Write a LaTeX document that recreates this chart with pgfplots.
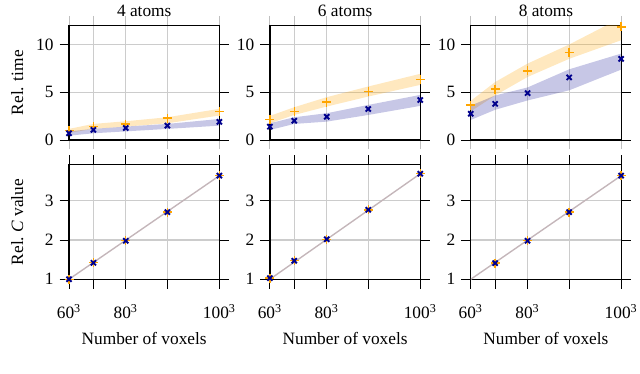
\documentclass[border=0pt]{standalone}
\usepackage{fontspec}
\setmainfont{Liberation Serif}
\usepackage{pgfplots}
\pgfplotsset{compat=1.18}

\definecolor{cOr}{RGB}{255,165,0}
\definecolor{cNv}{RGB}{0,0,140}
\definecolor{cLn}{RGB}{196,182,186}

% x in thousands of voxels: 60^3=216, 70^3=343, 80^3=512, 90^3=729, 100^3=1000
\pgfplotsset{
  every axis title/.style={at={(0.5,1)}, anchor=base, yshift=5.2pt},
  panel/.style={
    anchor=south west,
    width=86.9pt, height=66.2pt, scale only axis,
    xmin=216, xmax=1000,
    xtick={216,343,512,729,1000},
    grid=major, grid style={draw=gray!40, line width=0.6pt},
    tick align=outside, major tick length=5.5pt,
    tick style={black, line width=0.5pt},
    axis line style={line width=0.7pt},
    /pgf/number format/assume math mode=true,
    ylabel style={at={(axis description cs:-0.306,0.5)}, anchor=base},
  },
  toprow/.style={panel, ymin=0, ymax=12, ytick={0,5,10}, xticklabels={},
    x tick style={gray!50}},
  botrow/.style={panel, ymin=1, ymax=3.92, ytick={1,2,3},
    xticklabels={60\textsuperscript{3},,80\textsuperscript{3},,100\textsuperscript{3}},
    xticklabel style={yshift=-5.5pt},
    xlabel={Number of voxels},
    xlabel style={at={(axis description cs:0.5,0)}, anchor=base, yshift=-37.6pt}},
  tplus/.style={only marks, mark=+, mark size=2.6pt, cOr, line width=0.8pt},
  tx/.style={only marks, mark=x, mark size=2.1pt, cNv, line width=1.1pt},
  oband/.style={fill=cOr, fill opacity=0.25, draw=none},
  bband/.style={fill=cNv, fill opacity=0.22, draw=none},
}

\begin{document}
\begin{tikzpicture}
\useasboundingbox (0,0) rectangle (369.9pt,215.6pt);

% ---- top row: relative time ----
\begin{axis}[toprow, at={(39.9pt,134.7pt)}, title={4 atoms}, ylabel={Rel. time}]
  \addplot[oband] coordinates {(216,1.16) (343,1.68) (512,1.96) (729,2.38) (1000,3.26)
    (1000,2.56) (729,1.75) (512,1.40) (343,1.16) (216,0.74)} -- cycle;
  \addplot[bband] coordinates {(216,0.90) (343,1.16) (512,1.40) (729,1.68) (1000,2.20)
    (1000,1.50) (729,1.16) (512,0.90) (343,0.70) (216,0.45)} -- cycle;
  \addplot[tplus] coordinates {(216,0.97) (343,1.39) (512,1.67) (729,2.30) (1000,2.96)};
  \addplot[tx] coordinates {(216,0.70) (343,1.05) (512,1.25) (729,1.50) (1000,1.90)};
\end{axis}

\begin{axis}[toprow, at={(156.0pt,134.7pt)}, title={6 atoms}]
  \addplot[oband] coordinates {(216,2.52) (343,3.43) (512,4.48) (729,5.60) (1000,6.93)
    (1000,5.77) (729,4.55) (512,3.50) (343,2.62) (216,1.75)} -- cycle;
  \addplot[bband] coordinates {(216,1.75) (343,2.38) (512,2.80) (729,3.67) (1000,4.72)
    (1000,3.57) (729,2.62) (512,1.92) (343,1.68) (216,1.05)} -- cycle;
  \addplot[tplus] coordinates {(216,2.16) (343,2.96) (512,3.97) (729,5.05) (1000,6.34)};
  \addplot[tx] coordinates {(216,1.39) (343,2.02) (512,2.43) (729,3.24) (1000,4.18)};
\end{axis}

\begin{axis}[toprow, at={(272.1pt,134.7pt)}, title={8 atoms}]
  \addplot[oband] coordinates {(216,4.10) (343,6.07) (512,8.00) (729,10.00) (1000,12.80)
    (1000,10.45) (729,8.50) (512,6.60) (343,4.66) (216,3.00)} -- cycle;
  \addplot[bband] coordinates {(216,3.60) (343,4.66) (512,5.50) (729,7.40) (1000,9.05)
    (1000,7.37) (729,5.20) (512,4.14) (343,3.16) (216,2.10)} -- cycle;
  \addplot[tplus] coordinates {(216,3.66) (343,5.33) (512,7.24) (729,9.16) (1000,11.84)};
  \addplot[tx] coordinates {(216,2.75) (343,3.79) (512,4.91) (729,6.55) (1000,8.50)};
\end{axis}

% ---- bottom row: relative C value ----
\begin{axis}[botrow, at={(39.9pt,54.2pt)}, ylabel={Rel.\ \textit{C} value}]
  \addplot[cLn, line width=0.8pt] coordinates {(216,1) (1000,3.64)};
  \addplot[tplus] coordinates {(216,1.00) (343,1.42) (512,1.98) (729,2.71) (1000,3.64)};
  \addplot[tx] coordinates {(216,1.00) (343,1.42) (512,1.98) (729,2.71) (1000,3.64)};
\end{axis}

\begin{axis}[botrow, at={(156.0pt,54.2pt)}]
  \addplot[cLn, line width=0.8pt] coordinates {(216,1) (1000,3.69)};
  \addplot[tplus] coordinates {(216,1.03) (343,1.47) (512,2.02) (729,2.77) (1000,3.69)};
  \addplot[tx] coordinates {(216,1.03) (343,1.47) (512,2.02) (729,2.77) (1000,3.69)};
\end{axis}

\begin{axis}[botrow, at={(272.1pt,54.2pt)}]
  \addplot[cLn, line width=0.8pt] coordinates {(216,1) (1000,3.64)};
  \addplot[tplus] coordinates {(343,1.41) (512,1.98) (729,2.71) (1000,3.64)};
  \addplot[tx] coordinates {(343,1.41) (512,1.98) (729,2.71) (1000,3.64)};
\end{axis}
\end{tikzpicture}
\end{document}
